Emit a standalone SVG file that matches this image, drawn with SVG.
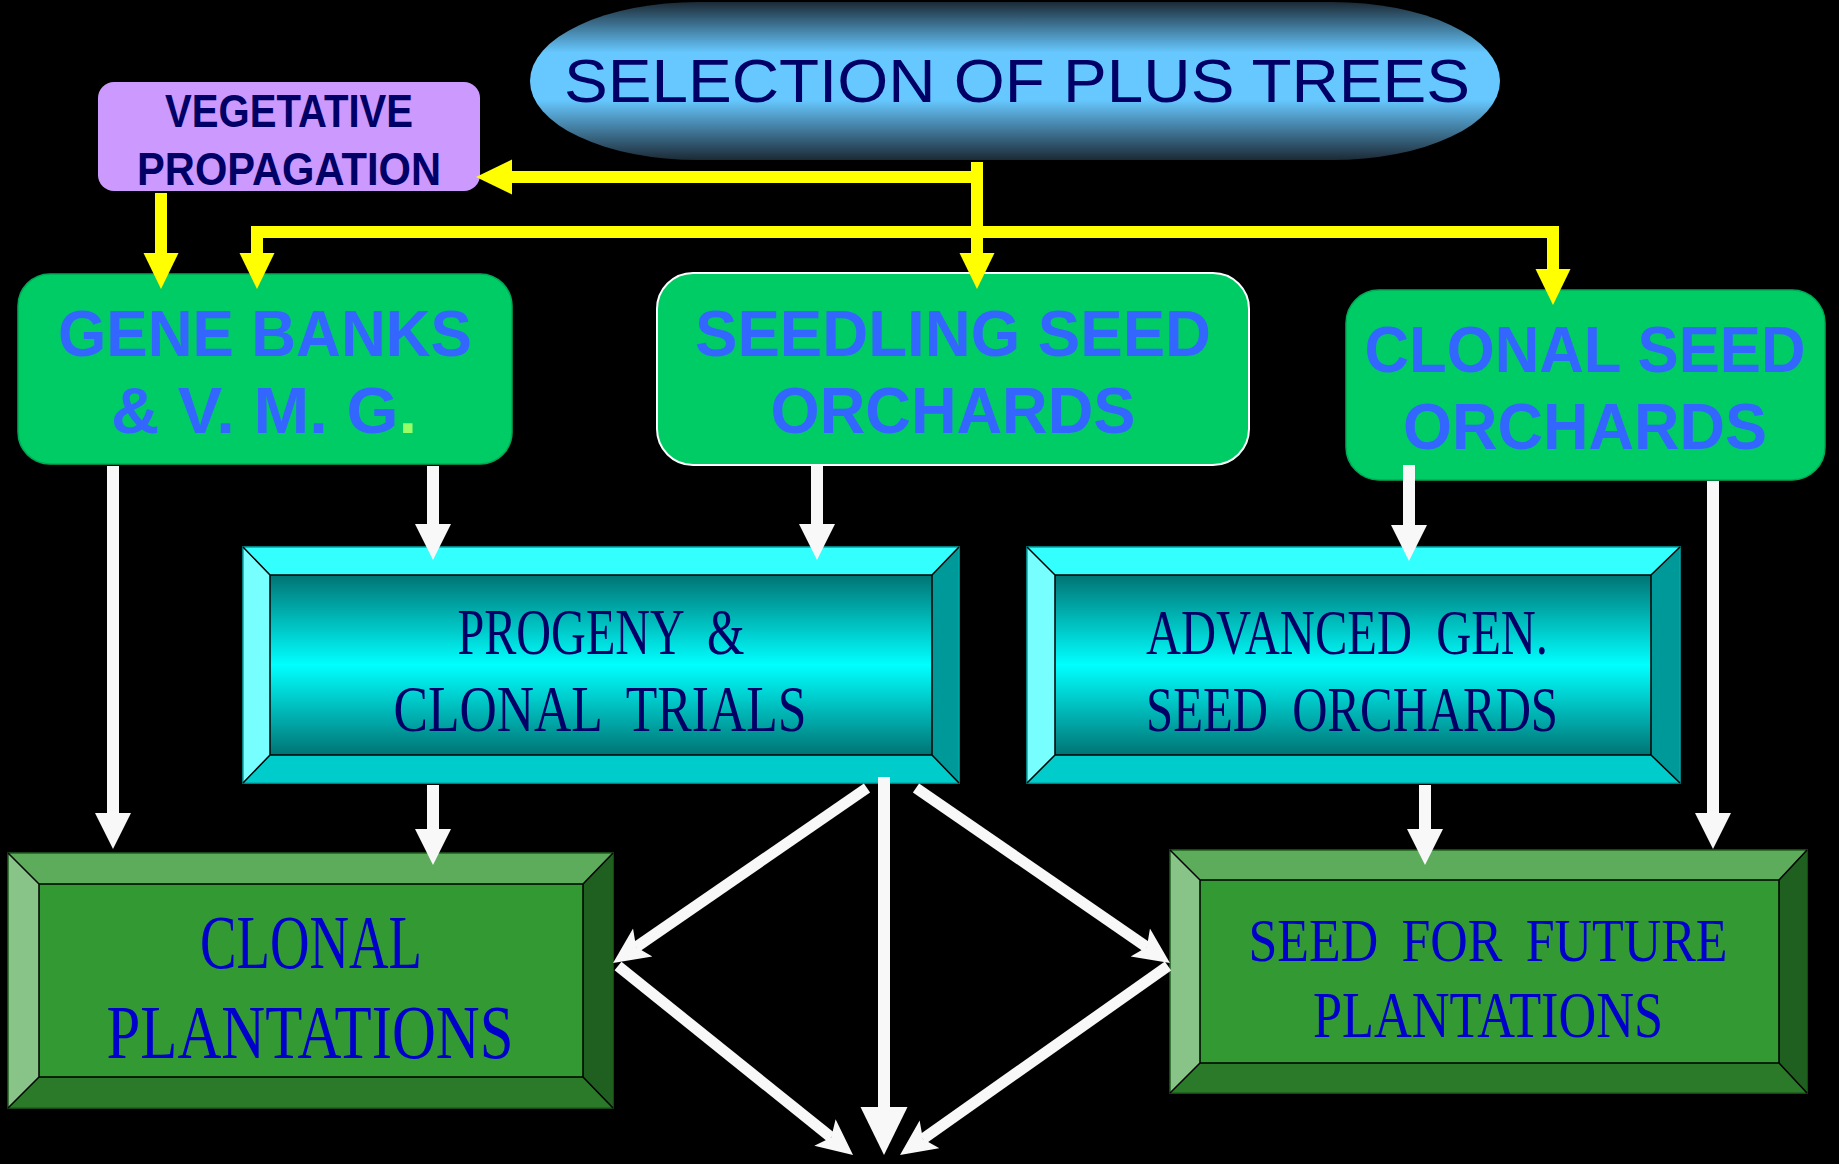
<svg xmlns="http://www.w3.org/2000/svg" width="1839" height="1164" viewBox="0 0 1839 1164">
<defs>
<style>
text{text-anchor:middle;}
.sans{font-family:"Liberation Sans",Arial,sans-serif;}
.bold{font-family:"Liberation Sans",Arial,sans-serif;font-weight:bold;}
.serif{font-family:"Liberation Serif","Times New Roman",serif;word-spacing:0.25em;}
.navy{fill:#000066;}
.blue{fill:#3366ff;}
.dblue{fill:#0000cc;}
.edge{stroke:#000;stroke-width:1.5;fill:none;}
.yl{fill:none;stroke:#ffff00;stroke-width:12;}
.wl{fill:none;stroke:#f8f8f8;stroke-width:12;}
.wd{fill:none;stroke:#f8f8f8;stroke-width:11;}
</style>
<linearGradient id="gEll" x1="0" y1="0" x2="0" y2="1">
<stop offset="0" stop-color="#1c2a36"/>
<stop offset="0.32" stop-color="#66c8ff"/>
<stop offset="0.62" stop-color="#66c8ff"/>
<stop offset="1" stop-color="#1c2a36"/>
</linearGradient>
<linearGradient id="gCyan" x1="0" y1="0" x2="0" y2="1">
<stop offset="0" stop-color="#007474"/>
<stop offset="0.5" stop-color="#00ffff"/>
<stop offset="1" stop-color="#007474"/>
</linearGradient>
<marker id="ya" viewBox="0 -18 37 36" refX="0" refY="0" markerWidth="37" markerHeight="36" markerUnits="userSpaceOnUse" orient="auto-start-reverse">
<path d="M0,-17.5 L36,0 L0,17.5z" fill="#ffff00"/>
</marker>
<marker id="wa" viewBox="0 -18 37 36" refX="0" refY="0" markerWidth="37" markerHeight="36" markerUnits="userSpaceOnUse" orient="auto">
<path d="M0,-18 L36,0 L0,18z" fill="#f8f8f8"/>
</marker>
<marker id="wb" viewBox="0 -24 49 48" refX="0" refY="0" markerWidth="49" markerHeight="48" markerUnits="userSpaceOnUse" orient="auto">
<path d="M0,-23.5 L48,0 L0,23.5z" fill="#f8f8f8"/>
</marker>
<marker id="wd" viewBox="0 -18 37 36" refX="8" refY="0" markerWidth="37" markerHeight="36" markerUnits="userSpaceOnUse" orient="auto">
<path d="M0,-17 L36,0 L0,17 L8,0z" fill="#f8f8f8"/>
</marker>
</defs>
<rect x="0" y="0" width="1839" height="1164" fill="#000"/>

<g id="selection">
<rect x="530" y="2" width="970" height="158" rx="168" ry="79" fill="url(#gEll)"/>
<text class="sans navy" x="1017" y="102" font-size="61" textLength="906" lengthAdjust="spacingAndGlyphs">SELECTION OF PLUS TREES</text>
</g>

<g id="vegetative">
<rect x="98" y="82" width="382" height="109" rx="16" fill="#cc99ff"/>
<text class="bold navy" x="289" y="127" font-size="46" textLength="248" lengthAdjust="spacingAndGlyphs">VEGETATIVE</text>
<text class="bold navy" x="289" y="185" font-size="46" textLength="304" lengthAdjust="spacingAndGlyphs">PROPAGATION</text>
</g>

<g id="genebanks">
<rect x="18" y="274" width="494" height="190" rx="32" fill="#00cc66" stroke="#00aa55" stroke-width="1.5"/>
<text class="bold blue" x="265" y="356" font-size="64" textLength="414" lengthAdjust="spacingAndGlyphs">GENE BANKS</text>
<text class="bold blue" x="264" y="433" font-size="64" textLength="306" lengthAdjust="spacingAndGlyphs">&amp; V. M. G<tspan fill="#99ff66">.</tspan></text>
</g>

<g id="seedling">
<rect x="657" y="273" width="592" height="192" rx="36" fill="#00cc66" stroke="#ffffff" stroke-width="2"/>
<text class="bold blue" x="953" y="356" font-size="64" textLength="516" lengthAdjust="spacingAndGlyphs">SEEDLING SEED</text>
<text class="bold blue" x="953" y="433" font-size="64" textLength="365" lengthAdjust="spacingAndGlyphs">ORCHARDS</text>
</g>

<g id="clonalseed">
<rect x="1346" y="290" width="479" height="190" rx="33" fill="#00cc66" stroke="#00aa55" stroke-width="1.5"/>
<text class="bold blue" x="1585" y="372" font-size="64" textLength="441" lengthAdjust="spacingAndGlyphs">CLONAL SEED</text>
<text class="bold blue" x="1585" y="449" font-size="64" textLength="364" lengthAdjust="spacingAndGlyphs">ORCHARDS</text>
</g>

<g id="progeny">
<polygon points="243,547 959,547 932,575 270,575" fill="#33ffff"/>
<polygon points="243,547 270,575 270,755 243,783" fill="#77ffff"/>
<polygon points="959,547 959,783 932,755 932,575" fill="#009999"/>
<polygon points="243,783 270,755 932,755 959,783" fill="#00cccc"/>
<rect x="270" y="575" width="662" height="180" fill="url(#gCyan)"/>
<rect x="243" y="547" width="716" height="236" fill="none" stroke="#00aaaa" stroke-width="1.5"/>
<path class="edge" d="M270,575 H932 V755 H270 Z M243,547 L270,575 M959,547 L932,575 M243,783 L270,755 M959,783 L932,755"/>
<text class="serif navy" x="601" y="654" font-size="65" textLength="287" lengthAdjust="spacingAndGlyphs">PROGENY &amp;</text>
<text class="serif navy" x="600" y="731" font-size="65" textLength="413" lengthAdjust="spacingAndGlyphs">CLONAL TRIALS</text>
</g>

<g id="advanced">
<polygon points="1027,547 1680,547 1651,575 1055,575" fill="#33ffff"/>
<polygon points="1027,547 1055,575 1055,755 1027,783" fill="#77ffff"/>
<polygon points="1680,547 1680,783 1651,755 1651,575" fill="#009999"/>
<polygon points="1027,783 1055,755 1651,755 1680,783" fill="#00cccc"/>
<rect x="1055" y="575" width="596" height="180" fill="url(#gCyan)"/>
<rect x="1027" y="547" width="653" height="236" fill="none" stroke="#00aaaa" stroke-width="1.5"/>
<path class="edge" d="M1055,575 H1651 V755 H1055 Z M1027,547 L1055,575 M1680,547 L1651,575 M1027,783 L1055,755 M1680,783 L1651,755"/>
<text class="serif navy" x="1347" y="654" font-size="64" textLength="402" lengthAdjust="spacingAndGlyphs">ADVANCED GEN.</text>
<text class="serif navy" x="1352" y="731" font-size="64" textLength="412" lengthAdjust="spacingAndGlyphs">SEED ORCHARDS</text>
</g>

<g id="clonalplantations">
<polygon points="8,853 613,853 583,884 39,884" fill="#5cac5c"/>
<polygon points="8,853 39,884 39,1077 8,1108" fill="#88c488"/>
<polygon points="613,853 613,1108 583,1077 583,884" fill="#1f5f1f"/>
<polygon points="8,1108 39,1077 583,1077 613,1108" fill="#2a7a2a"/>
<rect x="39" y="884" width="544" height="193" fill="#339933"/>
<rect x="8" y="853" width="605" height="255" fill="none" stroke="#1f5f1f" stroke-width="1.5"/>
<path class="edge" d="M39,884 H583 V1077 H39 Z M8,853 L39,884 M613,853 L583,884 M8,1108 L39,1077 M613,1108 L583,1077"/>
<text class="serif dblue" x="311" y="968" font-size="77" textLength="222" lengthAdjust="spacingAndGlyphs">CLONAL</text>
<text class="serif dblue" x="310" y="1058" font-size="77" textLength="407" lengthAdjust="spacingAndGlyphs">PLANTATIONS</text>
</g>

<g id="seedfuture">
<polygon points="1170,850 1807,850 1779,880 1200,880" fill="#5cac5c"/>
<polygon points="1170,850 1200,880 1200,1063 1170,1093" fill="#88c488"/>
<polygon points="1807,850 1807,1093 1779,1063 1779,880" fill="#1f5f1f"/>
<polygon points="1170,1093 1200,1063 1779,1063 1807,1093" fill="#2a7a2a"/>
<rect x="1200" y="880" width="579" height="183" fill="#339933"/>
<rect x="1170" y="850" width="637" height="243" fill="none" stroke="#1f5f1f" stroke-width="1.5"/>
<path class="edge" d="M1200,880 H1779 V1063 H1200 Z M1170,850 L1200,880 M1807,850 L1779,880 M1170,1093 L1200,1063 M1807,1093 L1779,1063"/>
<text class="serif dblue" x="1488" y="961" font-size="62" style="word-spacing:0.2em" textLength="479" lengthAdjust="spacingAndGlyphs">SEED FOR FUTURE</text>
<text class="serif dblue" x="1488" y="1037" font-size="66" textLength="350" lengthAdjust="spacingAndGlyphs">PLANTATIONS</text>
</g>

<g id="connectors">
<path class="yl" d="M977,162 V253" marker-end="url(#ya)"/>
<path class="yl" d="M983,177 H512" marker-end="url(#ya)"/>
<path class="yl" d="M257,253 V232 H1553 V269" marker-start="url(#ya)" marker-end="url(#ya)"/>
<path class="yl" d="M161,193 V253" marker-end="url(#ya)"/>

<path class="wl" d="M113,466 V813" marker-end="url(#wa)"/>
<path class="wl" d="M433,466 V524" marker-end="url(#wa)"/>
<path class="wl" d="M817,466 V524" marker-end="url(#wa)"/>
<path class="wl" d="M1409,465 V525" marker-end="url(#wa)"/>
<path class="wl" d="M1713,481 V813" marker-end="url(#wa)"/>
<path class="wl" d="M433,785 V829" marker-end="url(#wa)"/>
<path class="wl" d="M1425,785 V829" marker-end="url(#wa)"/>
<path class="wl" d="M884,777 V1107" marker-end="url(#wb)"/>

<path class="wd" d="M867,788 L636.1,947.1" marker-end="url(#wd)"/>
<path class="wd" d="M618,966 L831.2,1137.4" marker-end="url(#wd)"/>
<path class="wd" d="M916,788 L1146.9,947.1" marker-end="url(#wd)"/>
<path class="wd" d="M1168,966 L922.9,1138.9" marker-end="url(#wd)"/>
</g>
</svg>
